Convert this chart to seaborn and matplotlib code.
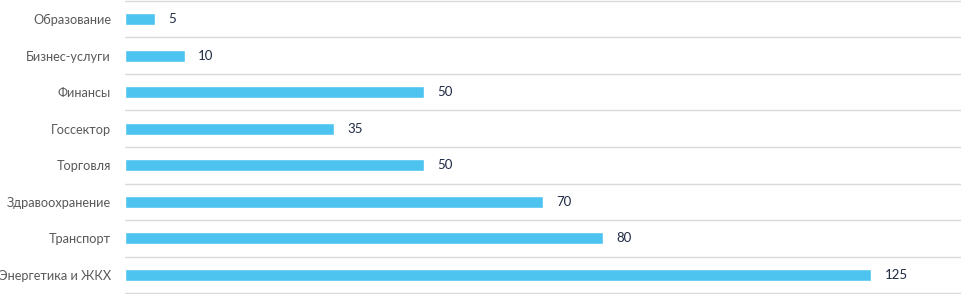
import numpy as np
import pandas as pd
import seaborn as sns
import matplotlib.pyplot as plt

# данные, сверху вниз
categories = ['Образование', 'Бизнес-услуги', 'Финансы', 'Госсектор',
              'Торговля', 'Здравоохранение', 'Транспорт', 'Энергетика и ЖКХ']
values = [5, 10, 50, 35, 50, 70, 80, 125]

sns.set_theme(style='white')
plt.rcParams['font.family'] = ['Lato', 'DejaVu Sans']

df = pd.DataFrame({'category': categories, 'value': values})

fig = plt.figure(figsize=(9.61, 2.94), dpi=100)
ax = fig.add_axes([125 / 961, 0.0, 836 / 961, 1.0])

sns.barplot(data=df, x='value', y='category', orient='h', color='#4DC3EF',
            saturation=1, width=0.33, ax=ax)

# подписи значений
for i, v in enumerate(values):
    ax.annotate(str(v), xy=(v, i), xytext=(9.5, 0), textcoords='offset points',
                ha='left', va='center', fontsize=9.5, color='#1F2A44')

ax.set_xlim(0, 140)
ax.set_ylim(len(categories) - 0.48, -0.52)

# линии сетки между категориями
ax.set_yticks(np.arange(-0.5, len(categories), 1), minor=True)
ax.grid(which='minor', axis='y', color='#D9D9D9', linewidth=1)
ax.grid(which='major', visible=False)
ax.tick_params(axis='y', which='both', length=0, pad=10, labelsize=9.2,
               labelcolor='#595959')
ax.set_xticks([])
ax.set_xlabel('')
ax.set_ylabel('')
for s in ax.spines.values():
    s.set_visible(False)

fig.savefig('out.png', dpi=100)
